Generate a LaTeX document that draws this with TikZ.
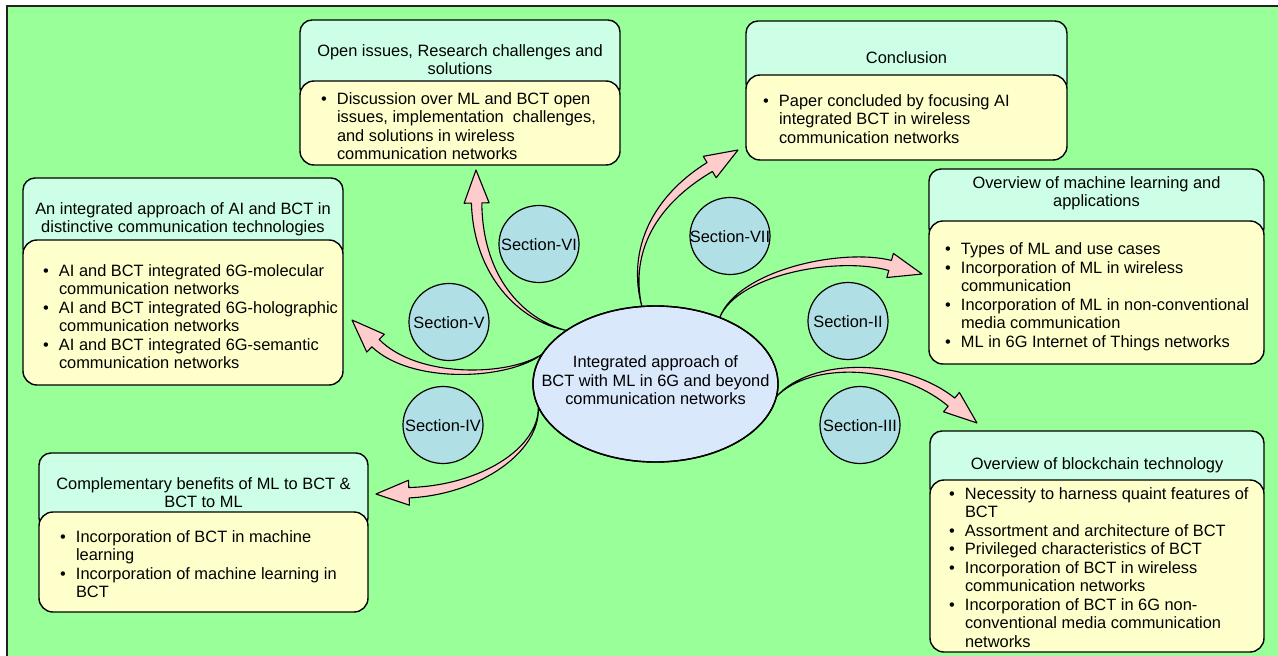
\documentclass[tikz,border=0pt]{standalone}
\usepackage{fontspec}
\setmainfont{Liberation Sans}
\usetikzlibrary{calc,shapes.geometric}

\definecolor{bggreen}{HTML}{99FF99}
\definecolor{mint}{HTML}{CCFFE6}
\definecolor{paleyellow}{HTML}{FFFFCC}
\definecolor{powder}{HTML}{B0E0E6}
\definecolor{ellblue}{HTML}{DAE8FC}
\definecolor{arrowpink}{HTML}{FFCCCC}
\definecolor{frameline}{HTML}{222222}

% bullet and continuation indent for the item lists
\newcommand\bitem{\makebox[16pt][l]{\textbullet}}
\newcommand\bcont{\hspace*{16pt}}

% curved arrow that widens from its start point to the head
% #1 start, #2 first control, #3 second control, #4 tip
\newcommand\taperarrow[4]{%
  \coordinate (ta-e) at ($(#4)!33pt!(#3)$);
  \draw[flowarrow]
    (#1) .. controls ($(#2)!1.8pt!-90:(#3)$) and ($(#3)!4.4pt!-90:(ta-e)$)
    .. ($(ta-e)!5.2pt!90:(#3)$) -- ($(ta-e)!12.5pt!90:(#3)$) -- (#4)
    -- ($(ta-e)!12.5pt!-90:(#3)$) -- ($(ta-e)!5.2pt!-90:(#3)$)
    .. controls ($(#3)!4.4pt!90:(ta-e)$) and ($(#2)!1.8pt!90:(#3)$) .. (#1) -- cycle;
}

\tikzset{
  every node/.style={font=\fontsize{16.4}{18.5}\selectfont, inner sep=0pt, outer sep=0pt},
  hdrbox/.style={draw=black, line width=1.4pt, fill=mint, rounded corners=12pt, rectangle},
  bodybox/.style={draw=black, line width=1.4pt, fill=paleyellow, rounded corners=14pt, rectangle},
  sectcirc/.style={draw=black, line width=1.2pt, fill=powder, shape=ellipse,
                   minimum width=80pt, minimum height=77pt},
  hdrtext/.style={anchor=north, align=center},
  bodytext/.style={anchor=north west, align=left},
  flowarrow/.style={draw=black, line width=1.1pt, fill=arrowpink, line join=round},
}

\begin{document}
\begin{tikzpicture}[x=1pt, y=-1pt]
  \fill[white] (0,0) rectangle (1278,656);
  \useasboundingbox (0,0) rectangle (1278,656);
  \begin{scope}
    \clip (0,0) rectangle (1278,656);
    \draw[line width=2pt, draw=frameline, fill=bggreen] (6.5,5.5) rectangle (1300,680);
  \end{scope}

  % section boxes: header behind, item list in front
  \node[hdrbox, minimum width=320pt, minimum height=80pt] (oiH) at (460,60) {};
  \node[bodybox, minimum width=320pt, minimum height=84pt] (oiB) at (460,123) {};

  \node[hdrbox, minimum width=321pt, minimum height=74pt] (coH) at (906.5,58) {};
  \node[bodybox, minimum width=321pt, minimum height=85pt] (coB) at (906.5,117.5) {};

  \node[hdrbox, minimum width=335pt, minimum height=71pt] (mlH) at (1096.5,204.5) {};
  \node[bodybox, minimum width=335pt, minimum height=143pt] (mlB) at (1096.5,292.5) {};

  \node[hdrbox, minimum width=334pt, minimum height=69pt] (bcH) at (1097,465.5) {};
  \node[bodybox, minimum width=334pt, minimum height=172pt] (bcB) at (1097,566) {};

  \node[hdrbox, minimum width=320pt, minimum height=82pt] (inH) at (183,219) {};
  \node[bodybox, minimum width=320pt, minimum height=145pt] (inB) at (183,312.5) {};

  \node[hdrbox, minimum width=329pt, minimum height=77pt] (cmH) at (203.5,491.5) {};
  \node[bodybox, minimum width=329pt, minimum height=100pt] (cmB) at (203.5,562) {};

  % section markers
  \node[sectcirc] (s6) at (539,244) {};
  \node[sectcirc] (s7) at (730,236) {};
  \node[sectcirc] (s5) at (449,322) {};
  \node[sectcirc] (s4) at (443,425) {};
  \node[sectcirc] (s2) at (848,321) {};
  \node[sectcirc] (s3) at (860,425) {};
  \node (s6t) at ([yshift=-1pt]s6) {Section-VI};
  \node (s7t) at ([yshift=-1pt]s7) {Section-VII};
  \node (s5t) at ([yshift=-1pt]s5) {Section-V};
  \node (s4t) at ([yshift=-1pt]s4) {Section-IV};
  \node (s2t) at ([yshift=-1pt]s2) {Section-II};
  \node (s3t) at ([yshift=-1pt]s3) {Section-III};

  % central topic
  \node[shape=ellipse, draw=black, line width=1.4pt, fill=ellblue,
        minimum width=245pt, minimum height=156pt] (core) at (655.5,384) {};

  % arrow tips
  \coordinate (t6) at (476,170);
  \coordinate (t7) at (738,150);
  \coordinate (t2) at (922,274);
  \coordinate (t3) at (977,423);
  \coordinate (t5) at (352,320);
  \coordinate (t4) at (376,494);

  \taperarrow{core.149}{520,320}{478,275}{t6}
  \taperarrow{core.100}{628,250}{655,200}{t7}
  \taperarrow{core.46}{738,272}{840,252}{t2}
  \taperarrow{core.354}{810,360}{900,360}{t3}
  \taperarrow{core.165}{510,378}{415,382}{t5}
  \taperarrow{core.191}{540,450}{480,490}{t4}

  \node[shape=ellipse, draw=black, line width=1.4pt, fill=none,
        minimum width=245pt, minimum height=156pt] (coreline) at (core) {};
  \node[hdrtext] (coret) at (655.5,355) {\strut Integrated approach of\\ BCT with ML in 6G and beyond\\ communication networks};

  % header texts
  \node[hdrtext] (oiHt) at (460,43.5) {\strut Open issues, Research challenges and\\ solutions};
  \node[hdrtext] (coHt) at (906.5,50.5) {\strut Conclusion};
  \node[hdrtext] (mlHt) at (1096.5,175.5) {\strut Overview of machine learning and\\ applications};
  \node[hdrtext] (bcHt) at (1097,456.5) {\strut Overview of blockchain technology};
  \node[hdrtext] (inHt) at (183,201.5) {\strut An integrated approach of AI and BCT in\\ distinctive communication technologies};
  \node[hdrtext] (cmHt) at (203.5,476.5) {\strut Complementary benefits of ML to BCT \&\\ BCT to ML};

  % item lists
  \node[bodytext] (oiBt) at (321,91.5) {\bitem\strut Discussion over ML and BCT open\\
    \bcont issues, implementation\ \ challenges,\\
    \bcont and solutions in wireless\\
    \bcont communication networks};
  \node[bodytext] (coBt) at (763,93.5) {\bitem\strut Paper concluded by focusing AI\\
    \bcont integrated BCT in wireless\\
    \bcont communication networks};
  \node[bodytext] (mlBt) at (945,242) {\bitem\strut Types of ML and use cases\\
    \bitem Incorporation of ML in wireless\\
    \bcont communication\\
    \bitem Incorporation of ML in non-conventional\\
    \bcont media communication\\
    \bitem ML in 6G Internet of Things networks};
  \node[bodytext] (bcBt) at (949,486.5) {\bitem\strut Necessity to harness quaint features of\\
    \bcont BCT\\
    \bitem Assortment and architecture of BCT\\
    \bitem Privileged characteristics of BCT\\
    \bitem Incorporation of BCT in wireless\\
    \bcont communication networks\\
    \bitem Incorporation of BCT in 6G non-\\
    \bcont conventional media communication\\
    \bcont networks};
  \node[bodytext] (inBt) at (43,263.5) {\bitem\strut AI and BCT integrated 6G-molecular\\
    \bcont communication networks\\
    \bitem AI and BCT integrated 6G-holographic\\
    \bcont communication networks\\
    \bitem AI and BCT integrated 6G-semantic\\
    \bcont communication networks};
  \node[bodytext] (cmBt) at (60,529.5) {\bitem\strut Incorporation of BCT in machine\\
    \bcont learning\\
    \bitem Incorporation of machine learning in\\
    \bcont BCT};
\end{tikzpicture}
\end{document}
